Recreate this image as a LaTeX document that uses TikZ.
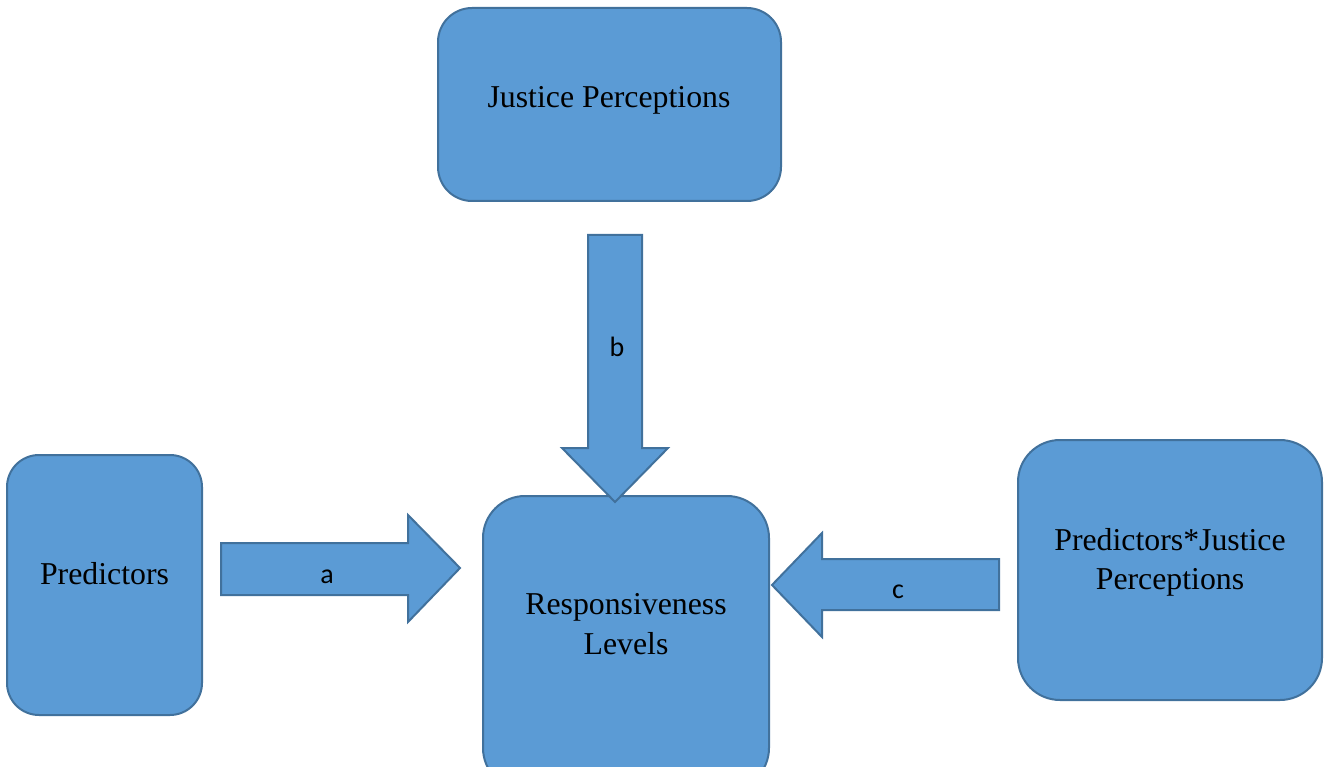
\documentclass[tikz,border=0pt]{standalone}
\usepackage{fontspec}
\setmainfont{Liberation Serif}
\newfontfamily\labelfont{Carlito}
\usetikzlibrary{calc}
\definecolor{boxfill}{HTML}{5B9BD5}
\definecolor{boxline}{HTML}{41719C}
\tikzset{
  box/.style={draw=boxline, fill=boxfill, line width=2pt, inner sep=0pt},
  boxtext/.style={anchor=base, inner sep=0pt, font=\fontsize{31.8}{40}\selectfont},
  blockarrow/.style={draw=boxline, fill=boxfill, line width=2pt, line join=miter},
  arrowtext/.style={anchor=base, inner sep=0pt, font=\labelfont\fontsize{28}{32}\selectfont}
}
\begin{document}
\begin{tikzpicture}[x=1pt, y=-1pt]
  \clip (0,0) rectangle (1330,767);

  % boxes
  \node[box, rounded corners=34pt, minimum width=343pt, minimum height=193pt] (jp) at (609.5,104.5) {};
  \node[box, rounded corners=32pt, minimum width=195pt, minimum height=260pt] (pred) at (104.5,585) {};
  \node[box, rounded corners=42pt, minimum width=304pt, minimum height=260pt] (pj) at (1170,570) {};
  \node[box, rounded corners=42pt, minimum width=286pt, minimum height=294pt] (resp) at (626,643) {};

  % box texts
  \node[boxtext] (jptext) at (609,107.5) {Justice Perceptions};
  \node[boxtext] (predtext) at (104.5,584) {Predictors};
  \node[boxtext] (pjtext1) at (1170,550.5) {Predictors*Justice};
  \node[boxtext] (pjtext2) at (1170,589.5) {Perceptions};
  \node[boxtext] (resptext1) at (626,614) {Responsiveness};
  \node[boxtext] (resptext2) at (626,654) {Levels};

  % block arrow a: Predictors -> Responsiveness Levels
  \coordinate (atail) at (221,569);
  \coordinate (atip) at (460,568);
  \draw[blockarrow] (atail) ++(0,-26) -- ++(187,0) -- ++(0,-28) -- (atip)
    -- (408,622) -- (408,595) -- (221,595) -- cycle;
  \node[arrowtext] (alabel) at (327,583) {a};

  % block arrow b: Justice Perceptions -> Responsiveness Levels
  \coordinate (btail) at (615,235);
  \coordinate (btip) at (615,502);
  \draw[blockarrow] (btail) ++(-27,0) -- (588,448) -- (562,448) -- (btip)
    -- (668,448) -- (642,448) -- (642,235) -- cycle;
  \node[arrowtext] (blabel) at (617,356) {b};

  % block arrow c: Predictors*Justice Perceptions -> Responsiveness Levels
  \coordinate (ctail) at (999,585);
  \coordinate (ctip) at (772,585);
  \draw[blockarrow] (ctail) ++(0,-26) -- (822,559) -- (822,533) -- (ctip)
    -- (822,637) -- (822,610) -- (999,610) -- cycle;
  \node[arrowtext] (clabel) at (898,598) {c};
\end{tikzpicture}
\end{document}
